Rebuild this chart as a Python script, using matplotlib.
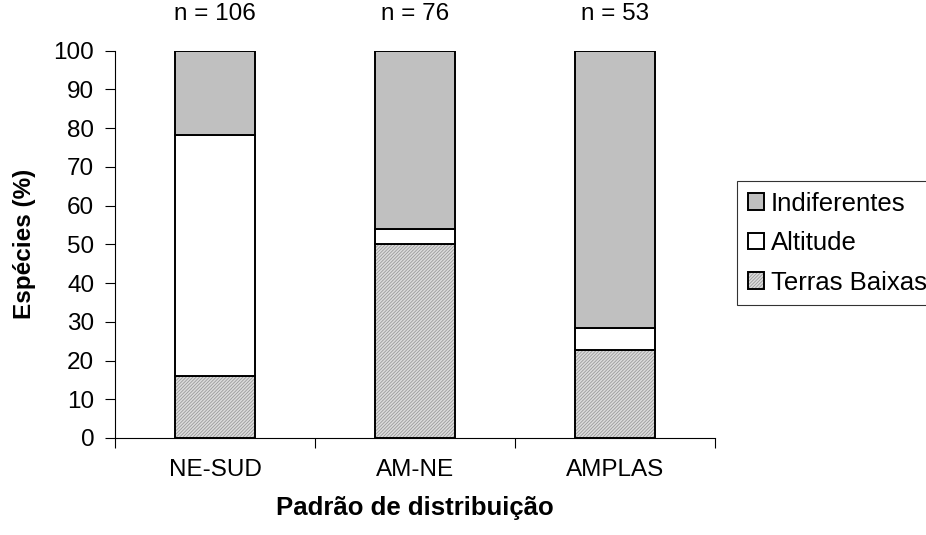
import matplotlib
matplotlib.use("Agg")
import matplotlib.pyplot as plt
import matplotlib.transforms as mtransforms
from matplotlib.patches import Patch
import numpy as np

categories = ["NE-SUD", "AM-NE", "AMPLAS"]
terras_baixas = [16.0, 50.0, 22.6]
altitude = [62.3, 4.0, 5.7]
indiferentes = [21.7, 46.0, 71.7]
n_labels = ["n = 106", "n = 76", "n = 53"]
series_names = ["Indiferentes", "Altitude", "Terras Baixas"]

plt.rcParams['font.family'] = ['Liberation Sans', 'DejaVu Sans']
plt.rcParams['hatch.linewidth'] = 0.6

W, H = 926, 535
fig = plt.figure(figsize=(W / 100, H / 100), dpi=100)
ax = fig.add_axes([115 / W, 1 - 438 / H, (715 - 115) / W, (438 - 50.7) / H])

x = np.arange(len(categories))
width = 0.4
edge_lw = 1.4
grey = '#c0c0c0'
hatch_face = '#dcdcdc'
hatch_col = '#9a9a9a'
hatch_pat = '//////////'
fs = 17.5

tb = np.array(terras_baixas)
al = np.array(altitude)
ind = np.array(indiferentes)

ax.bar(x, tb, width, color=hatch_face, edgecolor=hatch_col, hatch=hatch_pat, linewidth=0)
ax.bar(x, tb, width, fill=False, edgecolor='black', linewidth=edge_lw)
ax.bar(x, al, width, bottom=tb, color='white', edgecolor='black', linewidth=edge_lw)
ax.bar(x, ind, width, bottom=tb + al, color=grey, edgecolor='black', linewidth=edge_lw)

ax.set_xlim(-0.5, len(categories) - 0.5)
ax.set_ylim(0, 100)
ax.set_yticks(np.arange(0, 101, 10))
ax.set_xticks(x)
ax.set_xticklabels(categories)
ax.set_xticks(np.arange(-0.5, len(categories), 1.0), minor=True)
ax.tick_params(axis='x', which='major', length=0, pad=15, labelsize=fs)
ax.tick_params(axis='x', which='minor', length=7, width=0.8, direction='out')
ax.tick_params(axis='y', which='major', length=7, width=0.8, direction='out', labelsize=fs, pad=8)
for s in ['top', 'right']:
    ax.spines[s].set_visible(False)
for s in ['left', 'bottom']:
    ax.spines[s].set_linewidth(0.8)

ax.set_ylabel("Espécies (%)", fontsize=fs, fontweight='bold', va='center')
ax.set_xlabel("Padrão de distribuição", fontsize=18.5, fontweight='bold', va='center')
ax.yaxis.set_label_coords((25 - 115) / 600, 0.5)
ax.xaxis.set_label_coords(0.5, -(508 - 438) / (438 - 50.7))

tr = mtransforms.blended_transform_factory(ax.transData, fig.transFigure)
for xi, lab in zip(x, n_labels):
    ax.text(xi, 1 - 14 / H, lab, transform=tr, ha='center', va='center', fontsize=fs)

h_ind = Patch(facecolor=grey, edgecolor='black', linewidth=edge_lw)
h_alt = Patch(facecolor='white', edgecolor='black', linewidth=edge_lw)
h_tb = (Patch(facecolor=hatch_face, edgecolor=hatch_col, hatch=hatch_pat, linewidth=0),
        Patch(fill=False, edgecolor='black', linewidth=edge_lw))
leg = fig.legend([h_ind, h_alt, h_tb], series_names, loc='upper left',
                 bbox_to_anchor=(737 / W, 1 - 181 / H), fontsize=18.5,
                 handlelength=0.62, handleheight=0.62, handletextpad=0.28,
                 labelspacing=0.6, borderpad=0.42, borderaxespad=0,
                 frameon=True, fancybox=False, edgecolor='black')
leg.get_frame().set_linewidth(0.8)

fig.savefig("out.png", dpi=100)
